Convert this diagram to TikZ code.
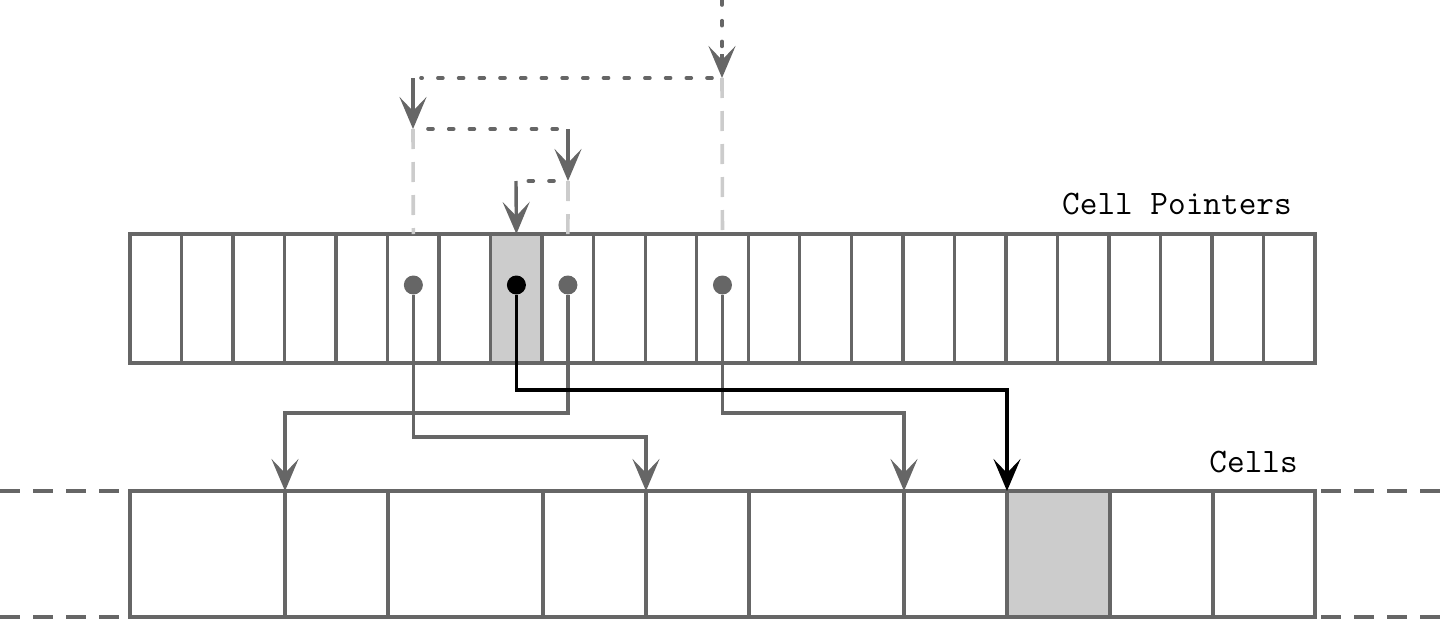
\documentclass[tikz,border=0pt]{standalone}
\usetikzlibrary{arrows.meta,calc}
\definecolor{lg}{HTML}{666666}
\definecolor{fillg}{HTML}{CCCCCC}
\definecolor{pale}{HTML}{CCCCCC}
\begin{document}
\begin{tikzpicture}[x=1pt,y=-1pt,
  pcell/.style={draw=lg, line width=3.4pt, minimum width=51.52pt, minimum height=129pt, inner sep=0pt, outer sep=0pt},
  ccell/.style={draw=lg, line width=3.4pt, minimum height=126pt, inner sep=0pt, outer sep=0pt},
  dot/.style={circle, fill=lg, minimum size=19pt, inner sep=0pt, outer sep=0pt},
  tipg/.tip={Stealth[length=32pt,width=27pt,inset=14pt]},
  conn/.style={draw=lg, line width=3.4pt, -{tipg}},
  bconn/.style={draw=black, line width=3.8pt, -{tipg}},
  dotline/.style={draw=lg, line width=3.6pt, line cap=round, dash pattern=on 5pt off 15.7pt},
  paledash/.style={draw=pale, line width=3.6pt, dash pattern=on 20pt off 13pt},
  extdash/.style={draw=lg, line width=3.4pt, dash pattern=on 20pt off 13pt},
  lbl/.style={font=\ttfamily\fontsize{34.3}{40}\selectfont, inner sep=0pt, anchor=base east}
]
\useasboundingbox (0,0) rectangle (1440,621);

% pointer array
\foreach \i in {0,...,22} {
  \node[pcell] (p\i) at ({130+51.52*\i+25.76}, 298.5) {};
}
\node[pcell, fill=fillg] at (p7) {};

% cells array
\foreach \a/\b [count=\k from 0] in {130/285,285/388,388/543,543/646,646/749,749/904,904/1007,1007/1110,1110/1213,1213/1315} {
  \pgfmathsetmacro\w{\b-\a}
  \pgfmathsetmacro\m{(\a+\b)/2}
  \node[ccell, minimum width=\w pt] (c\k) at (\m, 554) {};
}
\node[ccell, minimum width=103pt, fill=fillg] at (c7) {};

% extensions
\coordinate (L1) at (0,491);
\coordinate (L2) at (0,617);
\coordinate (R1) at (1440,491);
\coordinate (R2) at (1440,617);
\draw[extdash] (L1) -- (c0.north west);
\draw[extdash] (L2) -- (c0.south west);
\draw[extdash, dash phase=27pt] (c9.north east) -- (R1);
\draw[extdash, dash phase=27pt] (c9.south east) -- (R2);

% labels
\node[lbl] (lp) at (1292,214) {Cell Pointers};
\node[lbl] (lc) at (1298,472) {Cells};

% dots
\node[dot] (d5) at ($(p5.north)+(0,51)$) {};
\node[dot] (d8) at ($(p8.north)+(0,51)$) {};
\node[dot] (d11) at ($(p11.north)+(0,51)$) {};
\node[dot, fill=black] (d7) at ($(p7.north)+(0,51)$) {};

% connectors to cells
\coordinate (y437) at (0,437);
\coordinate (y413) at (0,413);
\coordinate (y390) at (0,390);
\draw[conn] (d5) -- (d5 |- y437) -| (c4.north west);
\draw[conn] (d8) -- (d8 |- y413) -| (c1.north west);
\draw[conn] (d11) -- (d11 |- y413) -| (c6.north west);
\draw[bconn] (d7) -- (d7 |- y390) -| (c7.north west);

% top chain
\coordinate (t0) at (722,0);
\coordinate (t1) at (722,78);
\coordinate (t2) at (413,78);
\coordinate (t3) at (413,129);
\coordinate (t4) at (568,129);
\coordinate (t5) at (568,181);
\coordinate (t6) at (516,181);
\draw[paledash] (t1) -- (p11.north);
\draw[paledash] (t3) -- (p5.north);
\draw[paledash] (t5) -- (p8.north);
\draw[dotline] (t0) -- ($(t1)+(0,-22)$);
\draw[conn] ($(t1)+(0,-24)$) -- (t1);
\draw[dotline] ($(t1)+(-10,0)$) -- ($(t2)+(8,0)$);
\draw[conn] (t2) -- (t3);
\draw[dotline] ($(t3)+(15,0)$) -- ($(t4)+(-10,0)$);
\draw[conn] (t4) -- (t5);
\draw[dotline] ($(t5)+(-14,0)$) -- ($(t6)+(12,0)$);
\draw[conn] (t6) -- (p7.north);
\end{tikzpicture}
\end{document}
